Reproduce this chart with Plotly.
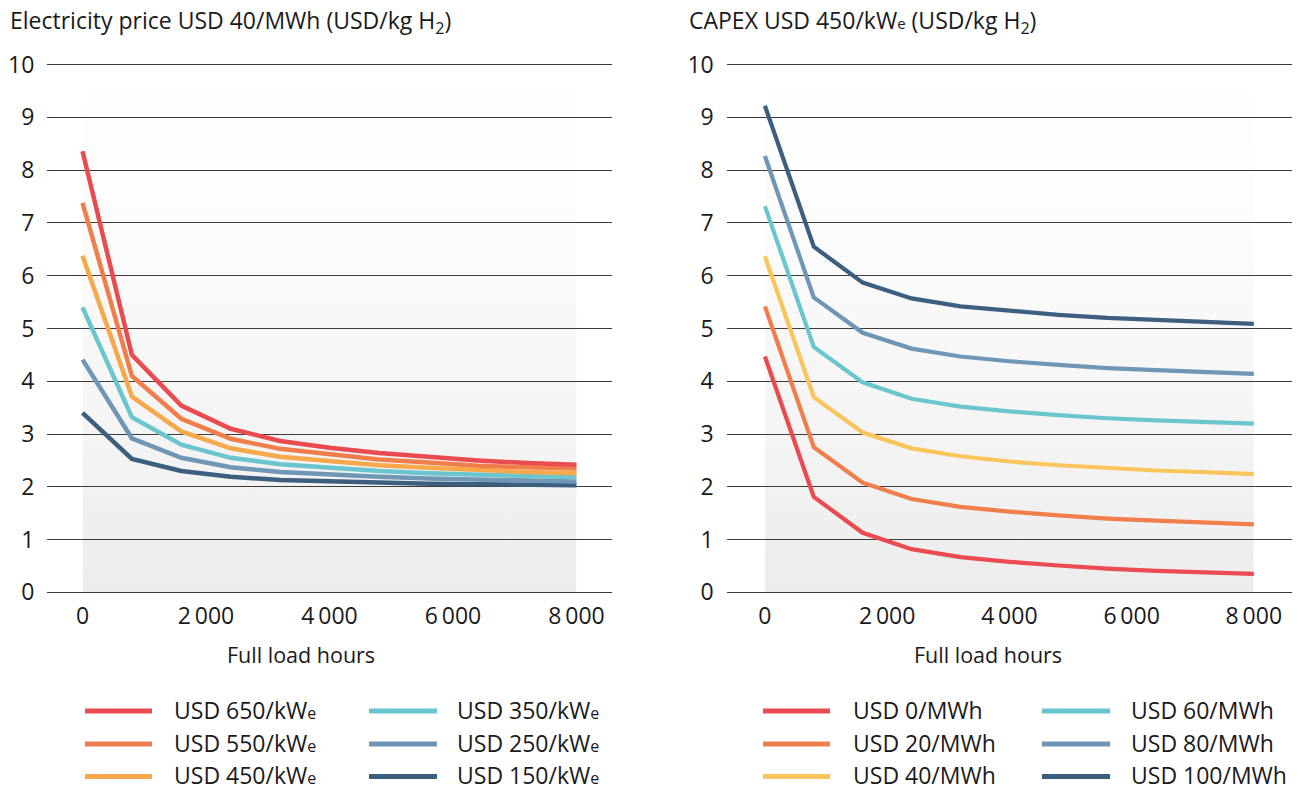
import base64
import plotly.graph_objects as go

# ---------------- data ----------------
hours = [0, 800, 1600, 2400, 3200, 4000, 4800, 5600, 6400, 7200, 8000]

# Left panel: electricity price USD 40/MWh, varying CAPEX
capex_labels = ["USD 650/kW<span style='font-size:16px'>e</span>",
                "USD 550/kW<span style='font-size:16px'>e</span>",
                "USD 450/kW<span style='font-size:16px'>e</span>",
                "USD 350/kW<span style='font-size:16px'>e</span>",
                "USD 250/kW<span style='font-size:16px'>e</span>",
                "USD 150/kW<span style='font-size:16px'>e</span>"]
capex_650 = [8.36, 4.50, 3.54, 3.10, 2.87, 2.74, 2.64, 2.56, 2.50, 2.45, 2.42]
capex_550 = [7.38, 4.10, 3.29, 2.91, 2.72, 2.61, 2.52, 2.46, 2.40, 2.37, 2.35]
capex_450 = [6.38, 3.71, 3.05, 2.73, 2.57, 2.48, 2.41, 2.36, 2.31, 2.28, 2.26]
capex_350 = [5.40, 3.32, 2.80, 2.55, 2.43, 2.36, 2.30, 2.26, 2.23, 2.20, 2.18]
capex_250 = [4.41, 2.92, 2.55, 2.37, 2.28, 2.23, 2.19, 2.16, 2.13, 2.12, 2.10]
capex_150 = [3.40, 2.53, 2.30, 2.19, 2.13, 2.10, 2.08, 2.06, 2.05, 2.04, 2.03]

# Right panel: CAPEX USD 450/kWe, varying electricity price
elec_labels = ["USD 0/MWh", "USD 20/MWh", "USD 40/MWh",
               "USD 60/MWh", "USD 80/MWh", "USD 100/MWh"]
elec_0 = [4.47, 1.81, 1.13, 0.82, 0.67, 0.58, 0.51, 0.45, 0.41, 0.38, 0.35]
elec_20 = [5.42, 2.75, 2.08, 1.77, 1.62, 1.53, 1.46, 1.40, 1.36, 1.32, 1.29]
elec_40 = [6.37, 3.70, 3.03, 2.73, 2.58, 2.48, 2.41, 2.36, 2.31, 2.28, 2.24]
elec_60 = [7.32, 4.65, 3.98, 3.67, 3.52, 3.43, 3.36, 3.30, 3.26, 3.23, 3.20]
elec_80 = [8.27, 5.59, 4.92, 4.62, 4.47, 4.38, 4.31, 4.25, 4.21, 4.17, 4.14]
elec_100 = [9.22, 6.55, 5.87, 5.57, 5.42, 5.33, 5.26, 5.20, 5.16, 5.12, 5.09]

x_tickvals = [0, 2000, 4000, 6000, 8000]
x_ticktext = ["0", "2\u2009000", "4\u2009000", "6\u2009000", "8\u2009000"]
y_tickvals = list(range(0, 11))

left_title = "Electricity price USD 40/MWh (USD/kg H<sub>2</sub>)"
right_title = "CAPEX USD 450/kW<span style='font-size:15px'>e</span> (USD/kg H<sub>2</sub>)"
x_title = "Full load hours"

left_colors = ["#E94B51", "#F07E4B", "#F6A84A", "#6BC5CE", "#7096B6", "#3D5F7F"]
right_colors = ["#E94B51", "#F07E4B", "#FAC55C", "#6BC5CE", "#7096B6", "#3D5F7F"]

left_series = [capex_650, capex_550, capex_450, capex_350, capex_250, capex_150]
right_series = [elec_0, elec_20, elec_40, elec_60, elec_80, elec_100]

# ---------------- layout helpers ----------------
W, H = 1297, 790
MT, MB = 62, 196
PH = H - MT - MB
FONT = "Open Sans"
TXT = "#1a1a1a"


def px(xp):
    return xp / W


def py(yp):
    return (H - MB - yp) / PH


fig = go.Figure()

for vals, name, col in reversed(list(zip(left_series, capex_labels, left_colors))):
    fig.add_trace(go.Scatter(x=hours, y=vals, name=name, mode="lines",
                             line=dict(color=col, width=4.5),
                             xaxis="x", yaxis="y", showlegend=False))
for vals, name, col in reversed(list(zip(right_series, elec_labels, right_colors))):
    fig.add_trace(go.Scatter(x=hours, y=vals, name=name, mode="lines",
                             line=dict(color=col, width=4.2),
                             xaxis="x2", yaxis="y2", showlegend=False))

axis_font = dict(family=FONT, size=23, color=TXT)
xcommon = dict(tickvals=x_tickvals, ticktext=x_ticktext, showgrid=False,
               zeroline=False, showline=False, ticks="", tickfont=axis_font,
               ticklabelstandoff=6, fixedrange=True)
ycommon = dict(tickvals=y_tickvals, range=[-0.03, 10.05], showgrid=True,
               gridcolor="#3c3c3c", gridwidth=1.2, zeroline=False,
               showline=False, ticks="", tickfont=axis_font,
               ticklabelstandoff=12, fixedrange=True)

fig.update_layout(
    width=W, height=H,
    margin=dict(l=0, r=0, t=MT, b=MB),
    paper_bgcolor="white", plot_bgcolor="rgba(0,0,0,0)",
    font=dict(family=FONT, color=TXT),
    xaxis=dict(domain=[px(47.3), px(611.7)], range=[-570, 8570], anchor="y", **xcommon),
    yaxis=dict(domain=[0, 1], anchor="x", **ycommon),
    xaxis2=dict(domain=[px(726.7), px(1291.7)], range=[-625, 8620], anchor="y2", **xcommon),
    yaxis2=dict(domain=[0, 1], anchor="x2", **ycommon),
    showlegend=False,
)

# background gradient panels
svg = ('<svg xmlns="http://www.w3.org/2000/svg" width="100" height="100" preserveAspectRatio="none">'
       '<defs><linearGradient id="g" x1="0" y1="0" x2="0" y2="1">'
       '<stop offset="0" stop-color="#ffffff"/><stop offset="0.3" stop-color="#fcfcfc"/>'
       '<stop offset="0.7" stop-color="#f4f4f4"/><stop offset="1" stop-color="#ececec"/>'
       '</linearGradient></defs><rect width="100" height="100" fill="url(#g)"/></svg>')
src = "data:image/svg+xml;base64," + base64.b64encode(svg.encode()).decode()
for xr, yr in [("x", "y"), ("x2", "y2")]:
    fig.add_layout_image(dict(source=src, xref=xr, yref=yr, x=hours[0], y=10,
                              sizex=hours[-1] - hours[0], sizey=10,
                              sizing="stretch", layer="below", xanchor="left",
                              yanchor="top", opacity=1))

annotations = [
    dict(text=left_title, x=px(8), y=py(22), xref="paper", yref="paper",
         xanchor="left", yanchor="middle", showarrow=False,
         font=dict(family=FONT, size=23, color=TXT)),
    dict(text=right_title, x=px(687), y=py(22), xref="paper", yref="paper",
         xanchor="left", yanchor="middle", showarrow=False,
         font=dict(family=FONT, size=23, color=TXT)),
    dict(text=x_title, x=px(301), y=py(654), xref="paper", yref="paper",
         xanchor="center", yanchor="middle", showarrow=False,
         font=dict(family=FONT, size=21.5, color=TXT)),
    dict(text=x_title, x=px(988), y=py(654), xref="paper", yref="paper",
         xanchor="center", yanchor="middle", showarrow=False,
         font=dict(family=FONT, size=21.5, color=TXT)),
]

shapes = []
row_y = [710, 743, 775.5]
legend_cols = [
    (capex_labels[:3], left_colors[:3], 85, 152, 172),
    (capex_labels[3:], left_colors[3:], 369, 437, 455),
    (elec_labels[:3], right_colors[:3], 763, 830, 851),
    (elec_labels[3:], right_colors[3:], 1042, 1110, 1129),
]
for labels, cols, x0, x1, xt in legend_cols:
    for lab, col, yy in zip(labels, cols, row_y):
        shapes.append(dict(type="line", xref="paper", yref="paper",
                           x0=px(x0), x1=px(x1), y0=py(yy + 1), y1=py(yy + 1),
                           line=dict(color=col, width=5)))
        annotations.append(dict(text=lab, x=px(xt), y=py(yy), xref="paper", yref="paper",
                                xanchor="left", yanchor="middle", showarrow=False,
                                font=dict(family=FONT, size=23, color=TXT)))

fig.update_layout(annotations=annotations, shapes=shapes)
fig.write_html("out.html", config={"displayModeBar": False},
               post_script="document.body.style.margin='0';document.body.style.overflow='hidden';")
